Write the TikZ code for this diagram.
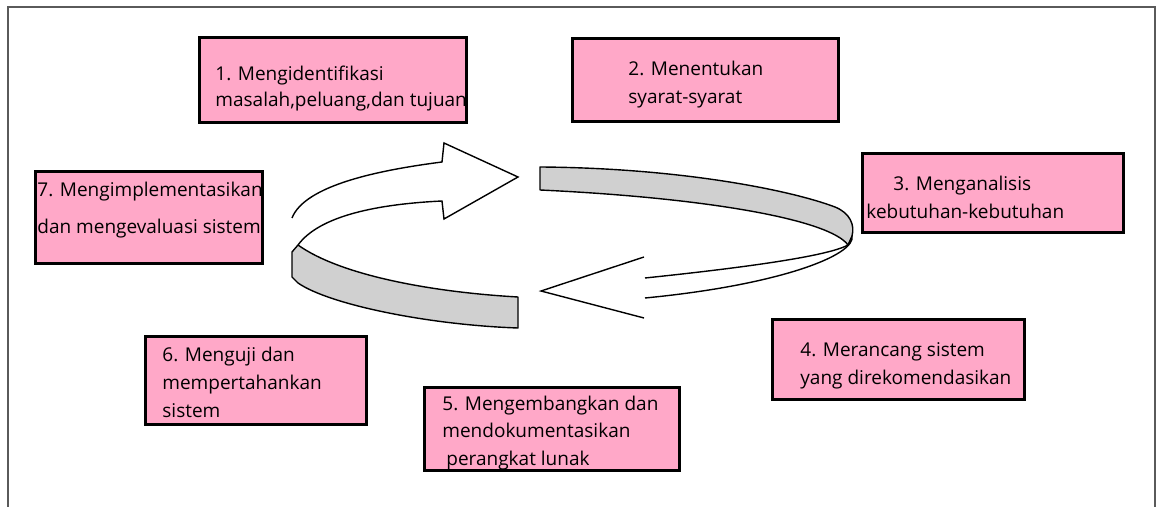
\documentclass[tikz,border=0pt]{standalone}
\usepackage{fontspec}
\setmainfont{Open Sans}
\definecolor{boxpink}{RGB}{255,168,200}
\definecolor{ribbon}{RGB}{208,208,208}
\definecolor{framegray}{RGB}{90,90,90}
\begin{document}
\begin{tikzpicture}[x=0.5pt,y=-0.5pt,
  box/.style={draw=black, line width=1.5pt, fill=boxpink, inner sep=0pt, rectangle},
  lbl/.style={anchor=base west, inner sep=0pt, font=\fontsize{9.5}{11}\selectfont},
  band/.style={draw=black, line width=0.7pt, fill=ribbon, line join=round},
  arr/.style={draw=black, line width=0.7pt, line join=miter}]
\useasboundingbox (0,0) rectangle (1157,507);
\fill[white] (0,0) rectangle (1157,507);
% outer frame
\draw[framegray, line width=1pt] (8,507) -- (8,7) -- (1155,7) -- (1155,507);

% boxes
\node[box, minimum width=133.5pt, minimum height=42.5pt] (b1) at (332.5,80.5) {};
\node[box, minimum width=133pt, minimum height=41.5pt] (b2) at (705,80.5) {};
\node[box, minimum width=130.5pt, minimum height=39.5pt] (b3) at (992.5,193.5) {};
\node[box, minimum width=126pt, minimum height=40pt] (b4) at (898,360) {};
\node[box, minimum width=127.5pt, minimum height=41.5pt] (b5) at (551.5,429.5) {};
\node[box, minimum width=110.5pt, minimum height=44pt] (b6) at (255.5,381) {};
\node[box, minimum width=113.5pt, minimum height=46pt] (b7) at (148.5,218) {};

% texts
\node[lbl] (t1a) at (215,81) {1. Mengidentifikasi};
\node[lbl] (t1b) at (215,107) {masalah,peluang,dan tujuan};
\node[lbl] (t2a) at (628,76) {2. Menentukan};
\node[lbl] (t2b) at (628,104) {syarat-syarat};
\node[lbl] (t3a) at (893,191) {3. Menganalisis};
\node[lbl] (t3b) at (866,219) {kebutuhan-kebutuhan};
\node[lbl] (t4a) at (800,357) {4. Merancang sistem};
\node[lbl] (t4b) at (800,385) {yang direkomendasikan};
\node[lbl] (t5a) at (442,411) {5. Mengembangkan dan};
\node[lbl] (t5b) at (442,438) {mendokumentasikan};
\node[lbl] (t5c) at (446,466) {perangkat lunak};
\node[lbl] (t6a) at (162,362) {6. Menguji dan};
\node[lbl] (t6b) at (162,390) {mempertahankan};
\node[lbl] (t6c) at (162,418) {sistem};
\node[lbl] (t7a) at (37,197) {7. Mengimplementasikan};
\node[lbl] (t7b) at (37,234) {dan mengevaluasi sistem};

% lower-left grey ribbon
\path[band] (298,245) .. controls (340,275) and (430,292) .. (518,297)
  -- (518,328) .. controls (430,325) and (330,305) .. (298,283)
  -- (292,277) -- (292,252) -- cycle;
% upper white arrow
\path[arr, fill=white] (292,218) .. controls (305,185) and (380,170) .. (442,162)
  -- (444,143) -- (518,177) -- (444,219) -- (442,201)
  .. controls (380,204) and (320,215) .. (298,245);
% upper-right grey ribbon
\path[band] (540,167) .. controls (680,168) and (790,190) .. (835,207)
  .. controls (850,213) and (855,225) .. (852,236)
  -- (848,245) .. controls (830,220) and (710,198) .. (540,190) -- cycle;
% lower white arrow
\draw[arr] (852,236) .. controls (856,255) and (780,285) .. (645,298);
\draw[arr] (848,245) .. controls (830,255) and (760,266) .. (645,278);
\draw[arr] (644,257) -- (541,291) -- (644,318);
\end{tikzpicture}
\end{document}
